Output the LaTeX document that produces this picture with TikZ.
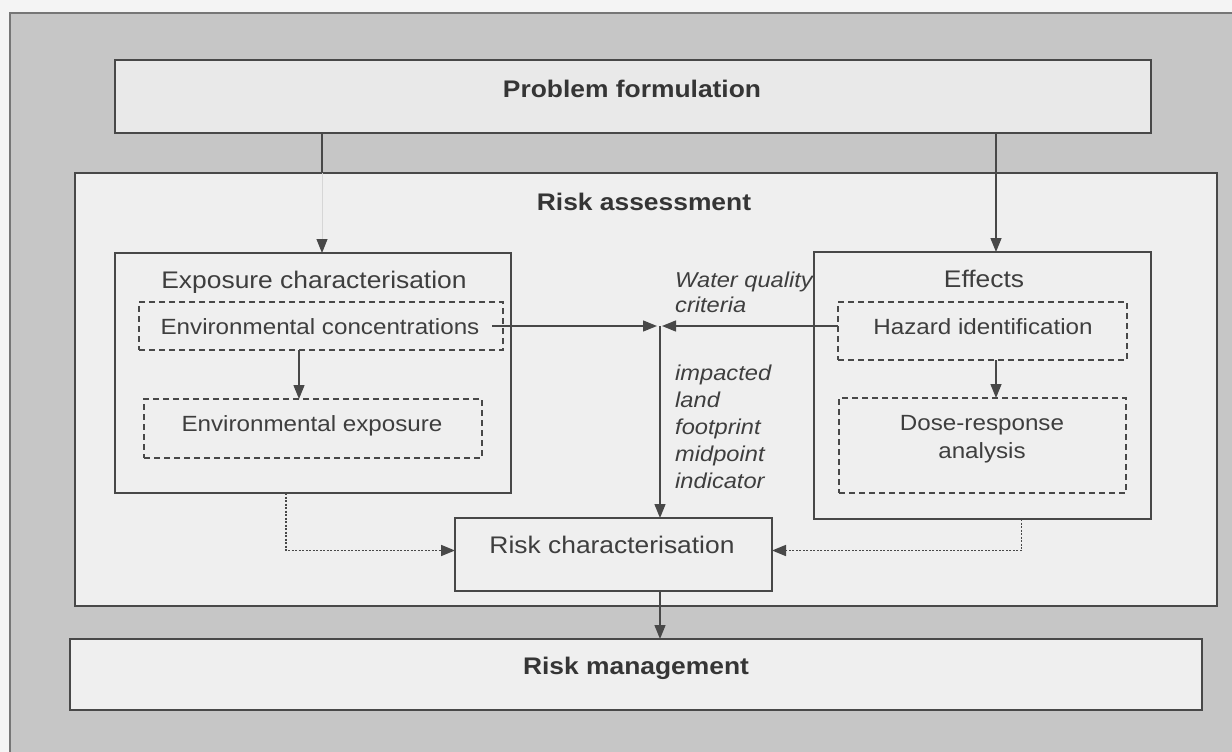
\documentclass[tikz,border=0pt]{standalone}
\usepackage{fontspec}
\setmainfont[FakeStretch=1.1]{Liberation Sans}
\usetikzlibrary{arrows.meta}

\definecolor{paper}{RGB}{244,244,244}
\definecolor{panel}{RGB}{198,198,198}
\definecolor{boxfill}{RGB}{239,239,239}
\definecolor{pffill}{RGB}{233,233,233}
\definecolor{ink}{RGB}{72,72,72}
\definecolor{textink}{RGB}{62,62,62}
\definecolor{faint}{RGB}{214,214,214}

\begin{document}
\begin{tikzpicture}[x=1pt,y=-1pt,
  solidbox/.style={draw=ink, line width=1.5pt, fill=boxfill, inner sep=0pt, outer sep=0pt, anchor=north west},
  dashbox/.style={draw=ink, line width=1.3pt, dash pattern=on 6pt off 4pt, inner sep=0pt, outer sep=0pt, anchor=north west},
  title/.style={font=\fontsize{24pt}{28pt}\selectfont, text=textink, inner sep=0pt, anchor=base},
  inner/.style={font=\fontsize{22pt}{28pt}\selectfont, text=textink, inner sep=0pt, anchor=base},
  heading/.style={font=\fontsize{24pt}{28pt}\selectfont\bfseries, text=textink!85!black, inner sep=0pt, anchor=base},
  note/.style={font=\fontsize{21.5pt}{27pt}\selectfont\itshape, text=textink, inner sep=0pt, anchor=base west, align=left},
  tip/.style={-{Triangle[length=14pt,width=11pt]}},
  conn/.style={draw=ink, line width=1.4pt, tip},
  dotconn/.style={draw=ink, line width=1.6pt, dash pattern=on 2pt off 1.5pt, tip},
]
\useasboundingbox (0,0) rectangle (1232,752);

% page and grey panel
\fill[paper] (0,0) rectangle (1232,752);
\fill[panel] (10,13) rectangle (1232,752);
\draw[ink!75, line width=1.5pt] (10,752) -- (10,13) -- (1232,13);

% main stages
\node[solidbox, fill=pffill, minimum width=1036pt, minimum height=73pt] (pf) at (115,60) {};
\node[solidbox, minimum width=1142pt, minimum height=433pt] (ra) at (75,173) {};
\node[solidbox, minimum width=1132pt, minimum height=71pt] (rm) at (70,639) {};

% inside the risk assessment
\node[solidbox, minimum width=396pt, minimum height=240pt] (expo) at (115,253) {};
\node[solidbox, minimum width=337pt, minimum height=267pt] (eff) at (814,252) {};
\node[dashbox, minimum width=364pt, minimum height=48pt] (envconc) at (139,302) {};
\node[dashbox, minimum width=338pt, minimum height=59pt] (envexpo) at (144,399) {};
\node[dashbox, minimum width=289pt, minimum height=58pt] (hazard) at (838,302) {};
\node[dashbox, minimum width=287pt, minimum height=95pt] (dose) at (839,398) {};
\node[solidbox, minimum width=317pt, minimum height=73pt] (rc) at (455,518) {};

% labels (multi-line labels sit on the baseline of their last line)
\node[heading] (pftxt) at (632,97) {Problem formulation};
\node[heading] (ratxt) at (644,210) {Risk assessment};
\node[heading] (rmtxt) at (636,674) {Risk management};
\node[title] (expotxt) at (314,288) {Exposure characterisation};
\node[title] (efftxt) at (984,287) {Effects};
\node[title] (rctxt) at (612,553) {Risk characterisation};
\node[inner] (envconctxt) at (320,334) {Environmental concentrations};
\node[inner] (envexpotxt) at (312,431) {Environmental exposure};
\node[inner] (hazardtxt) at (983,334) {Hazard identification};
\node[inner, align=center] (dosetxt) at (982,458) {Dose-response\\analysis};
\node[note, font=\fontsize{21.5pt}{25pt}\selectfont\itshape] (wqtxt) at (675,312) {Water quality\\criteria};
\node[note] (imptxt) at (675,488) {impacted\\land\\footprint\\midpoint\\indicator};

% connectors
\coordinate (jn) at (660,326);
\coordinate (ea) at ([xshift=9pt]expo.north);
\coordinate (fa) at ([xshift=13.5pt]eff.north);

\draw[ink, line width=1.4pt] (pf.south -| ea) -- (ea |- ra.north);
\draw[faint, line width=1pt, -{Triangle[length=14pt,width=11pt,color=ink]}] (ea |- ra.north) -- (ea);
\draw[conn] (pf.south -| fa) -- (fa);

\draw[conn] ([xshift=-11pt]envconc.east) -- ([xshift=-3pt]jn);
\draw[conn] (hazard.west |- jn) -- ([xshift=2pt]jn);
\draw[conn] (jn) -- (jn |- rc.north);

\draw[conn] ([xshift=-22pt]envconc.south) -- ([xshift=-22pt]envconc.south |- envexpo.north);
\draw[conn] (hazard.south -| fa) -- (dose.north -| fa);

\draw[dotconn] ([xshift=-27pt]expo.south) |- ([yshift=4pt]rc.west);
\draw[dotconn] ([xshift=39pt]eff.south) |- ([yshift=4pt]rc.east);

\draw[conn] (jn |- rc.south) -- (jn |- rm.north);
\end{tikzpicture}
\end{document}
